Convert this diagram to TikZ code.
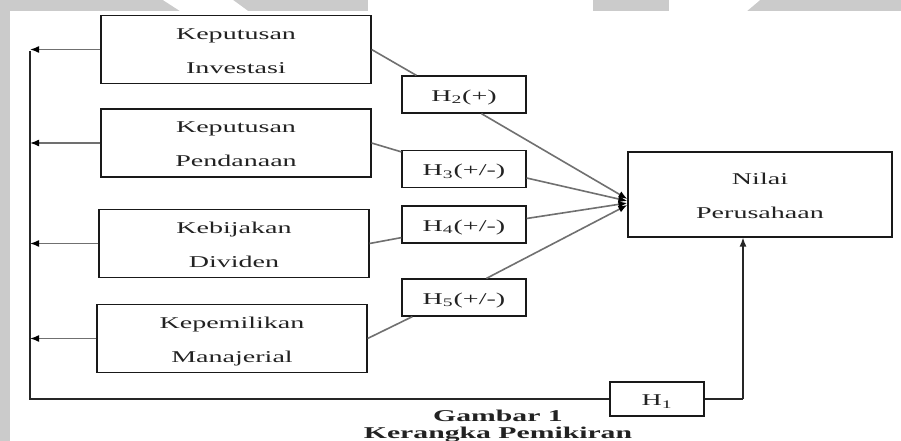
\documentclass[tikz,border=0pt]{standalone}
\usepackage{fontspec}
\setmainfont{Liberation Serif}
\usepackage{graphicx}
\usetikzlibrary{arrows.meta,calc}
\definecolor{bggray}{HTML}{CBCBCB}
\definecolor{txt}{HTML}{222222}
\definecolor{conn}{HTML}{707070}
\newcommand{\wtxt}[1]{\scalebox{1.7}[1]{\begin{tabular}{@{}c@{}}#1\end{tabular}}}
\tikzset{
  box/.style={draw=black!90, line width=1.2pt, minimum width=270pt, minimum height=67pt, inner sep=0pt},
  hbox/.style={draw=black!90, line width=1.2pt, minimum width=124pt, minimum height=37pt, inner sep=0pt},
  link/.style={draw=conn, line width=1.6pt},
  arr/.style={link, -{Latex[length=9pt,width=7pt,color=black]}},
  frame/.style={draw=black!85, line width=1.4pt},
  capt/.style={font=\fontsize{16.5}{18}\selectfont\bfseries, anchor=base, inner sep=0pt}
}
\begin{document}
\begin{tikzpicture}[x=1pt, y=-1pt, font=\fontsize{16.5}{34}\selectfont, text=txt]
\useasboundingbox (0,0) rectangle (901,441);
% background
\fill[bggray] (0,0) rectangle (901,441);
\fill[white] (10,11) rectangle (901,441);
\fill[white] (163,0) -- (233,0) -- (248,11) -- (180,11) -- cycle;
\fill[white] (368,0) rectangle (593,11);
\fill[white] (669,0) -- (760,0) -- (747,11) -- (669,11) -- cycle;

% boxes
\node[box] (b1) at (236,49.5) {\wtxt{Keputusan\\Investasi}};
\node[box] (b2) at (236,143) {\wtxt{Keputusan\\Pendanaan}};
\node[box] (b3) at (234,243.5) {\wtxt{Kebijakan\\Dividen}};
\node[box] (b4) at (232,338.5) {\wtxt{Kepemilikan\\Manajerial}};

\node[hbox] (h2) at (464,94.5) {\wtxt{H\textsubscript{2}(+)}};
\node[hbox] (h3) at (464,169) {\wtxt{H\textsubscript{3}(+/-)}};
\node[hbox] (h4) at (464,224.5) {\wtxt{H\textsubscript{4}(+/-)}};
\node[hbox] (h5) at (464,297.5) {\wtxt{H\textsubscript{5}(+/-)}};

\node[box, minimum width=264pt, minimum height=85pt] (nil) at (760,194.5) {\wtxt{Nilai\\Perusahaan}};
\node[hbox, minimum width=94pt, minimum height=31pt] (h1) at (657,399) {\wtxt{H\textsubscript{1}}};

% connectors boxes -> hypotheses
\draw[link] (b1.east) -- ([xshift=15pt]h2.north west);
\draw[link] (b2.east) -- ([yshift=-2pt]h3.north west);
\draw[link] (b3.east) -- ([yshift=6pt]h4.south west);
\draw[link] (b4.east) -- ([xshift=11pt]h5.south west);

% hypotheses -> Nilai
\draw[arr] ([xshift=80pt]h2.south west) -- ([yshift=-4.5pt]nil.west);
\draw[arr] ([yshift=-9pt]h3.east) -- ([yshift=-6.5pt]nil.west);
\draw[arr] ([yshift=6pt]h4.east) -- ([yshift=-8.5pt]nil.west);
\draw[arr] ([xshift=85pt]h5.north west) -- ([yshift=-10.5pt]nil.west);

% left feedback arrows
\coordinate (vtop) at (30,51);
\coordinate (vbot) at (30,399);
\coordinate (up) at (743,399);
\draw[arr] (b1.west) -- (b1.west -| vtop);
\draw[arr] (b2.west) -- (b2.west -| vtop);
\draw[arr] (b3.west) -- (b3.west -| vtop);
\draw[arr] (b4.west) -- (b4.west -| vtop);

\draw[frame] (vtop) -- (vbot) -- (h1.west);
\draw[frame] (h1.east) -- (up);
\draw[frame, -{Latex[length=9pt,width=7pt]}] (up) -- (up |- nil.south);

% caption
\node[capt] (cap1) at (498,421) {\scalebox{1.8}[1]{Gambar 1}};
\node[capt] (cap2) at (498,438) {\scalebox{1.8}[1]{Kerangka Pemikiran}};
\end{tikzpicture}
\end{document}
